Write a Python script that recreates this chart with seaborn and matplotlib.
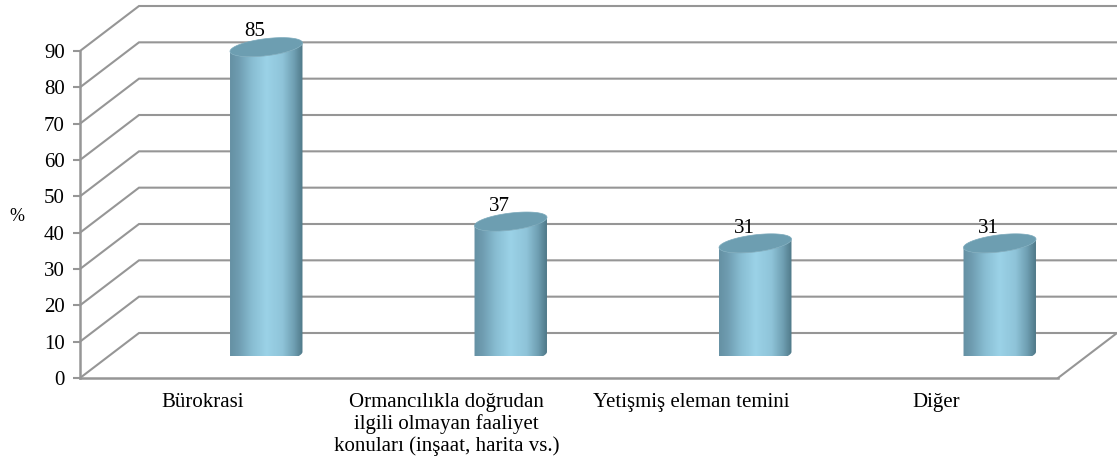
import numpy as np
import pandas as pd
import seaborn as sns
import matplotlib.pyplot as plt
from matplotlib.colors import LinearSegmentedColormap
from matplotlib.patches import PathPatch, Polygon
from matplotlib.path import Path

# veriler
categories = ['Bürokrasi',
              'Ormancılıkla doğrudan\nilgili olmayan faaliyet\nkonuları (inşaat, harita vs.)',
              'Yetişmiş eleman temini',
              'Diğer']
values = [85, 37, 31, 31]
y_ticks = list(range(0, 100, 10))

# ayarlar (piksel)
W, H = 1117, 466
FRONT_L, FRONT_R, FRONT_B, FRONT_T = 80, 1058, 378, 51
DEPTH_X, DEPTH_Y = 59, 45
BAR_DX, BAR_DY = 64, 22
GREY = '#969696'
FS = 15

cyl = LinearSegmentedColormap.from_list('cyl', [
    (0.0, '#6590a3'), (0.12, '#6f9db1'), (0.3, '#88bdd2'), (0.5, '#9bd2e7'),
    (0.72, '#8fc4d9'), (0.88, '#6f9fb2'), (1.0, '#4f7888')])

sns.set_theme(style='white')
plt.rcParams['font.family'] = ['Liberation Serif', 'DejaVu Serif']

fig = plt.figure(figsize=(W / 100, H / 100), dpi=100)


def rect(l, r, b, t):
    return [l / W, 1 - b / H, (r - l) / W, (b - t) / H]


# arka duvar + taban
ax = fig.add_axes(rect(FRONT_L, FRONT_R, FRONT_B, FRONT_T))
ax.set_xlim(-0.5, 3.5)
ax.set_ylim(0, 90)
px_x = (FRONT_R - FRONT_L) / 4
px_y = (FRONT_B - FRONT_T) / 90
dx, dy = DEPTH_X / px_x, DEPTH_Y / px_y
for t in y_ticks:
    xs = [-0.5, -0.5 + dx, 3.5 + dx]
    ys = [t, t + dy, t + dy]
    ax.plot(xs, ys, color=GREY, lw=1.5, clip_on=False, solid_joinstyle='miter')
ax.plot([3.5, 3.5 + dx], [0, dy], color=GREY, lw=1.5, clip_on=False)
ax.set_xticks(range(4))
ax.set_xticklabels(categories, fontsize=FS, color='black', linespacing=1.15)
ax.set_yticks(y_ticks)
ax.set_yticklabels(y_ticks, fontsize=FS, color='black')
ax.tick_params(axis='x', length=0, pad=11)
ax.tick_params(axis='y', length=5, width=1.5, color=GREY, pad=6, left=True)
sns.despine(ax=ax, top=True, right=True)
ax.spines['left'].set_color(GREY)
ax.spines['bottom'].set_color(GREY)
ax.spines['left'].set_linewidth(1.8)
ax.spines['bottom'].set_linewidth(1.8)
ax.patch.set_alpha(0)
fig.text(17 / W, 1 - 216 / H, '%', fontsize=13, ha='center', va='center', color='black')

# silindirler, duvara göre kaydirilmis eksende
ax2 = fig.add_axes(rect(FRONT_L + BAR_DX, FRONT_R + BAR_DX, FRONT_B - BAR_DY, FRONT_T - BAR_DY))
df = pd.DataFrame({'kategori': categories, 'deger': values})
sns.barplot(data=df, x='kategori', y='deger', ax=ax2, width=0.3, color='#9bd2e7', saturation=1)
ax2.set_xlim(-0.5, 3.5)
ax2.set_ylim(0, 90)
ax2.set_axis_off()

A, B, TILT = 36.5, 8.5, np.radians(7)


def ellipse(cx, cy, t):
    # piksel olcusunde egik elips -> veri koordinati
    ex = A * np.cos(t) * np.cos(TILT) - B * np.sin(t) * np.sin(TILT)
    ey = A * np.cos(t) * np.sin(TILT) + B * np.sin(t) * np.cos(TILT)
    return cx + ex / px_x, cy + ey / px_y


grad = np.linspace(0, 1, 256).reshape(1, -1)
for bar, v in zip(list(ax2.patches), values):
    cx = bar.get_x() + bar.get_width() / 2
    h = bar.get_height()
    bar.set_visible(False)
    half = A / px_x

    # govde: alt elipsin alt yarisi + ust kenar
    t_low = np.linspace(np.pi, 2 * np.pi, 60)
    lx, ly = ellipse(cx, 0, t_low)
    tx, ty = ellipse(cx, h, t_low[::-1])
    verts = np.column_stack([np.r_[lx, tx], np.r_[ly, ty]])
    body = PathPatch(Path(np.vstack([verts, verts[0]]), closed=True), transform=ax2.transData,
                     facecolor='none', edgecolor='none')
    ax2.add_patch(body)
    im = ax2.imshow(grad, cmap=cyl, vmin=0, vmax=1, aspect='auto', interpolation='bilinear',
                    extent=[cx - half, cx + half, -15, h + 15], zorder=3)
    im.set_clip_path(body)

    # ust kapak
    t_all = np.linspace(0, 2 * np.pi, 120)
    ex, ey = ellipse(cx, h, t_all)
    ax2.add_patch(Polygon(np.column_stack([ex, ey]), closed=True, facecolor='#6d9eb1',
                          edgecolor='#7aa9bb', lw=0.5, zorder=4, clip_on=False))
    ax2.annotate(str(v), (cx, h), xytext=(-8, 11), textcoords='offset points', ha='center',
                 va='center', fontsize=FS, color='black', zorder=5, annotation_clip=False)

ax2.set_xlim(-0.5, 3.5)
ax2.set_ylim(0, 90)
fig.savefig('out.png', dpi=100, facecolor='white')
